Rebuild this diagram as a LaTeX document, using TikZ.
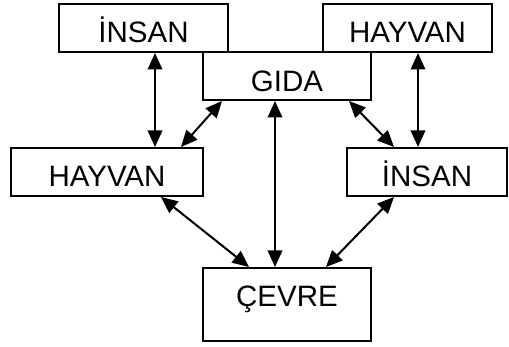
\documentclass[tikz,border=0pt]{standalone}
\usepackage{fontspec}
\setmainfont{Liberation Sans}
\usetikzlibrary{arrows.meta}
\begin{document}
\begin{tikzpicture}[x=1pt,y=-1pt,
  box/.style={draw=black,line width=2pt,fill=white,rectangle,inner sep=0pt,
    minimum height=48pt,font=\fontsize{29.5}{31}\selectfont,text height=29pt,text depth=0pt},
  conn/.style={line width=2pt,{Triangle[length=16.5pt,width=14.5pt]}-{Triangle[length=16.5pt,width=14.5pt]}}]
\useasboundingbox (0,0) rectangle (509,347);
\node[box,minimum width=169pt] (insanL) at (143.5,28) {İNSAN};
\node[box,minimum width=169pt] (hayvanR) at (407.5,28) {HAYVAN};
\node[box,minimum width=168pt,text height=31pt] (gida) at (287,76) {GIDA};
\node[box,minimum width=192pt] (hayvanL) at (107,172) {HAYVAN};
\node[box,minimum width=160pt] (insanR) at (427,172) {İNSAN};
\node[box,minimum width=168pt,minimum height=73pt,text height=11pt,text depth=6pt] (cevre) at (287,304.5) {ÇEVRE};
\draw[conn] ([xshift=11.5pt]insanL.south) -- ([xshift=48pt]hayvanL.north);
\draw[conn] ([xshift=20pt]gida.south west) -- ([xshift=-23pt]hayvanL.north east);
\draw[conn] ([xshift=-12pt]gida.south) -- ([xshift=-12pt]cevre.north);
\draw[conn] ([xshift=-23pt]gida.south east) -- ([xshift=48pt]insanR.north west);
\draw[conn] ([xshift=10.5pt]hayvanR.south) -- ([xshift=-9pt]insanR.north);
\draw[conn] ([xshift=-43pt]hayvanL.south east) -- ([xshift=47pt]cevre.north west);
\draw[conn] ([xshift=48pt]insanR.south west) -- ([xshift=-46pt]cevre.north east);
\end{tikzpicture}
\end{document}
